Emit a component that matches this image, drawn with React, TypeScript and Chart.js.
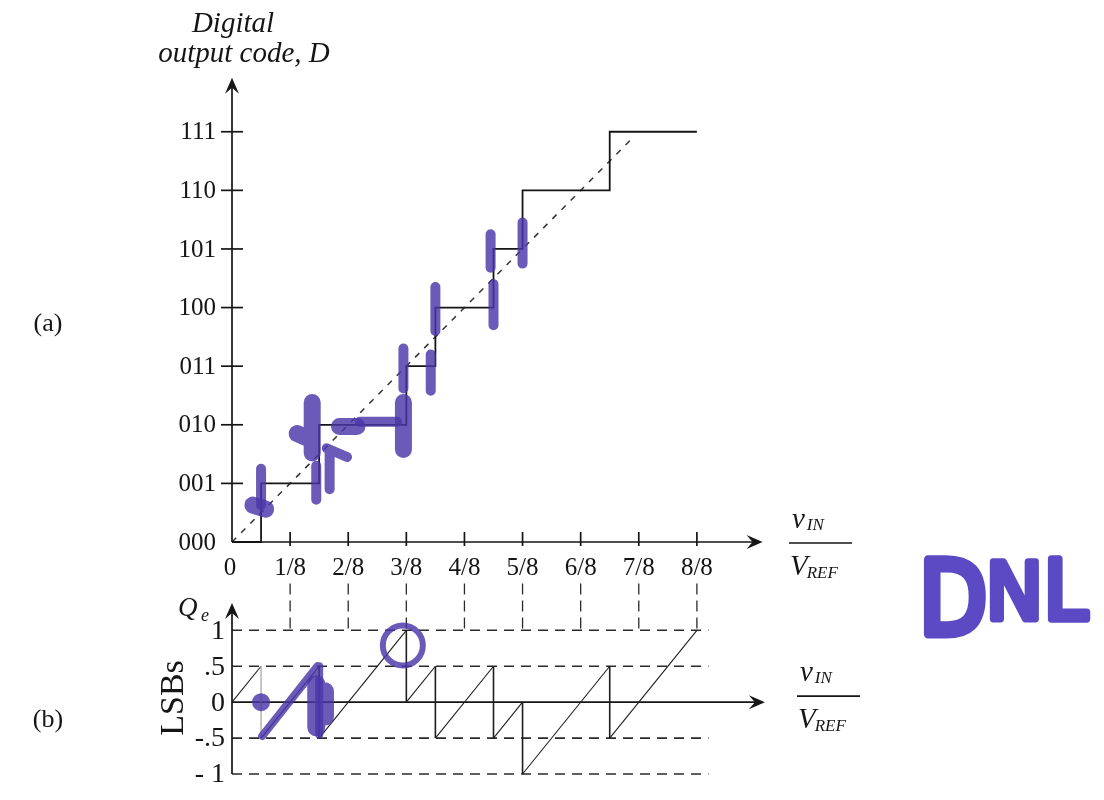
import { useEffect, useRef } from "react";
import { Chart, registerables } from "chart.js";
Chart.register(...registerables);

// ---------- (a) transfer characteristic (x in 1/8 units, y = code index) ----------
const codeTicks = [0, 1, 2, 3, 4, 5, 6, 7];
const codeLabels = ["000", "001", "010", "011", "100", "101", "110", "111"];
const inputTicks = [0, 1, 2, 3, 4, 5, 6, 7, 8];
const inputLabels = ["0", "1/8", "2/8", "3/8", "4/8", "5/8", "6/8", "7/8", "8/8"];
const stairX = [0, 0.5, 1.5, 3, 3.5, 4.5, 5, 6.5, 8];
const stairCode = [0, 1, 2, 3, 4, 5, 6, 7, 7];
const idealX = [0, 6.9];
const idealCode = [0, 6.9];

// hand-drawn ink marks on (a): [x1, y1, x2, y2]
const inkA_thin = [
  [0.5, 0.63, 0.5, 1.25],
  [1.45, 0.72, 1.45, 1.3],
  [1.68, 0.9, 1.68, 1.55],
  [1.63, 1.6, 1.98, 1.45],
  [2.2, 2.05, 2.84, 2.05],
  [2.95, 2.62, 2.95, 3.3],
  [3.42, 2.58, 3.42, 3.2],
  [3.5, 3.6, 3.5, 4.35],
  [4.5, 3.7, 4.5, 4.4],
  [4.45, 4.68, 4.45, 5.25],
  [5.0, 4.75, 5.0, 5.45],
];
const inkA_thick = [
  [0.36, 0.63, 0.58, 0.56],
  [1.38, 1.52, 1.38, 2.38],
  [1.12, 1.85, 1.35, 1.75],
  [1.85, 1.97, 2.15, 1.97],
  [2.95, 1.58, 2.95, 2.38],
];

// ---------- (b) quantization error ----------
const qeTicks = [1, 0.5, 0, -0.5, -1];
const qeTickLabels = ["1", ".5", "0", "-.5", "- 1"];
const qeGridLevels = [1, 0.5, -0.5, -1];
const qeX = [0, 0.5, 0.5, 1.5, 1.5, 3, 3, 3.5, 3.5, 4.5, 4.5, 5, 5, 6.5, 6.5, 8];
const qeY = [0, 0.5, -0.5, 0.5, -0.5, 1, 0, 0.5, -0.5, 0.5, -0.5, 0, -1, 0.5, -0.5, 1];

const inkB_thin = [
  [0.52, -0.47, 1.47, 0.5],
  [1.5, 0.5, 1.5, -0.45],
];
const inkB_thick = [
  [1.45, 0.25, 1.45, -0.35],
  [1.6, 0.15, 1.6, -0.2],
];
const inkB_dot = [[0.5, 0]];
const inkB_ring = [[2.94, 0.79]];

const SERIF = '"Liberation Serif", "DejaVu Serif", serif';
const INK = "rgba(74, 54, 168, 0.82)";
const INK_TEXT = "#5c4ac4";
const BLACK = "#151515";

const segData = (segs: number[][]) => {
  const out: any[] = [];
  segs.forEach((s) => {
    out.push({ x: s[0], y: s[1] }, { x: s[2], y: s[3] }, { x: s[2], y: null });
  });
  return out;
};
const zipXY = (xs: number[], ys: number[]) => xs.map((x, i) => ({ x, y: ys[i] }));

function arrowHead(ctx: CanvasRenderingContext2D, x: number, y: number, dir: "up" | "right") {
  ctx.save();
  ctx.translate(x, y);
  if (dir === "up") ctx.rotate(-Math.PI / 2);
  ctx.beginPath();
  ctx.moveTo(0, 0);
  ctx.lineTo(-16, -7);
  ctx.lineTo(-10, 0);
  ctx.lineTo(-16, 7);
  ctx.closePath();
  ctx.fillStyle = BLACK;
  ctx.fill();
  ctx.restore();
}

function line(ctx: CanvasRenderingContext2D, x1: number, y1: number, x2: number, y2: number) {
  ctx.beginPath();
  ctx.moveTo(x1, y1);
  ctx.lineTo(x2, y2);
  ctx.stroke();
}

function fracLabel(ctx: CanvasRenderingContext2D, left: number, lineY: number, right: number) {
  ctx.save();
  ctx.fillStyle = BLACK;
  ctx.textAlign = "left";
  ctx.textBaseline = "alphabetic";
  ctx.font = `italic 29px ${SERIF}`;
  ctx.fillText("v", left + 3, lineY - 15);
  const vw = ctx.measureText("v").width;
  ctx.font = `italic 17px ${SERIF}`;
  ctx.fillText("IN", left + 3 + vw + 2, lineY - 13);
  ctx.strokeStyle = BLACK;
  ctx.lineWidth = 1.6;
  line(ctx, left, lineY, right, lineY);
  ctx.font = `italic 29px ${SERIF}`;
  ctx.fillText("V", left + 1, lineY + 32);
  const Vw = ctx.measureText("V").width;
  ctx.font = `italic 17px ${SERIF}`;
  ctx.fillText("REF", left + 1 + Vw - 1, lineY + 35);
  ctx.restore();
}

function inkLetter(
  ctx: CanvasRenderingContext2D, ch: string, l: number, t: number, r: number, b: number
) {
  ctx.save();
  ctx.font = `100px "DejaVu Sans", "Noto Sans", sans-serif`;
  const m = ctx.measureText(ch);
  const pad = 6;
  const gw = m.actualBoundingBoxLeft + m.actualBoundingBoxRight + pad * 2;
  const gh = m.actualBoundingBoxAscent + m.actualBoundingBoxDescent + pad * 2;
  const sx = (r - l) / gw;
  const sy = (b - t) / gh;
  ctx.translate(l, t);
  ctx.scale(sx, sy);
  ctx.translate(m.actualBoundingBoxLeft + pad, m.actualBoundingBoxAscent + pad);
  ctx.fillStyle = INK_TEXT;
  ctx.strokeStyle = INK_TEXT;
  ctx.lineJoin = "round";
  ctx.lineCap = "round";
  ctx.lineWidth = 9;
  ctx.textBaseline = "alphabetic";
  ctx.fillText(ch, 0, 0);
  ctx.strokeText(ch, 0, 0);
  ctx.restore();
}

const axesA = {
  id: "axesA",
  beforeDraw(chart: any) {
    const ctx = chart.ctx;
    ctx.save();
    ctx.fillStyle = "#ffffff";
    ctx.fillRect(0, 0, chart.width, chart.height);
    ctx.restore();
  },
  beforeDatasetsDraw(chart: any) {
    const ctx: CanvasRenderingContext2D = chart.ctx;
    const xs = chart.scales.x;
    const ys = chart.scales.y;
    const x0 = xs.getPixelForValue(0);
    const y0 = ys.getPixelForValue(0);
    ctx.save();
    ctx.strokeStyle = BLACK;
    ctx.lineWidth = 1.7;
    // axes
    const yTip = ys.getPixelForValue(7.92);
    const xTip = xs.getPixelForValue(9.13);
    line(ctx, x0, y0, x0, yTip + 6);
    arrowHead(ctx, x0, yTip, "up");
    line(ctx, x0, y0, xTip - 6, y0);
    arrowHead(ctx, xTip, y0, "right");
    // y ticks and labels
    ctx.fillStyle = BLACK;
    ctx.font = `25px ${SERIF}`;
    ctx.textAlign = "right";
    ctx.textBaseline = "middle";
    codeTicks.forEach((c, i) => {
      const py = ys.getPixelForValue(c);
      if (c > 0) line(ctx, x0 - 11, py, x0 + 11, py);
      ctx.fillText(codeLabels[i], x0 - 16, py + 1);
    });
    // x ticks and labels
    ctx.textAlign = "center";
    ctx.textBaseline = "alphabetic";
    inputTicks.forEach((v, i) => {
      const px = xs.getPixelForValue(v);
      if (v > 0) line(ctx, px, y0 - 10, px, y0 + 4);
      ctx.fillText(inputLabels[i], px - (v === 0 ? 2 : 0), y0 + 33);
    });
    // titles
    ctx.font = `italic 29px ${SERIF}`;
    ctx.fillText("Digital", x0 + 1, 32);
    ctx.fillText("output code, D", x0 + 12, 62);
    ctx.font = `26px ${SERIF}`;
    ctx.fillText("(a)", 48, 331);
    fracLabel(ctx, 789, y0 + 1, 852);
    ctx.restore();
  },
};

const axesB = {
  id: "axesB",
  beforeDatasetsDraw(chart: any) {
    const ctx: CanvasRenderingContext2D = chart.ctx;
    const xs = chart.scales.x;
    const ys = chart.scales.y;
    const x0 = xs.getPixelForValue(0);
    const y0 = ys.getPixelForValue(0);
    ctx.save();
    ctx.strokeStyle = "#2a2a2a";
    ctx.lineWidth = 1.6;
    // dashed reference levels
    ctx.setLineDash([10, 7]);
    const xEnd = xs.getPixelForValue(8.2);
    qeGridLevels.forEach((q) => {
      const py = ys.getPixelForValue(q);
      line(ctx, x0, py, xEnd, py);
    });
    // vertical dashed projections from the 1/8 ticks
    ctx.setLineDash([11, 6]);
    ctx.lineWidth = 1.3;
    const yTop = ys.getPixelForValue(1.65);
    const yBot = ys.getPixelForValue(1) - 1;
    inputTicks.forEach((v) => {
      if (v === 0) return;
      const px = xs.getPixelForValue(v);
      line(ctx, px, yTop, px, yBot);
    });
    ctx.setLineDash([]);
    // axes
    ctx.strokeStyle = BLACK;
    ctx.lineWidth = 1.7;
    const yTip = ys.getPixelForValue(1.38);
    const xTip = xs.getPixelForValue(9.17);
    line(ctx, x0, ys.getPixelForValue(-1), x0, yTip + 6);
    arrowHead(ctx, x0, yTip, "up");
    line(ctx, x0, y0, xTip - 6, y0);
    arrowHead(ctx, xTip, y0, "right");
    // tick labels
    ctx.fillStyle = BLACK;
    ctx.font = `28px ${SERIF}`;
    ctx.textAlign = "right";
    ctx.textBaseline = "middle";
    qeTicks.forEach((q, i) => {
      ctx.fillText(qeTickLabels[i], x0 - 7, ys.getPixelForValue(q) + 1);
    });
    // Qe label
    ctx.textAlign = "left";
    ctx.textBaseline = "alphabetic";
    ctx.font = `italic 27px ${SERIF}`;
    ctx.fillText("Q", 178, 616);
    ctx.font = `italic 18px ${SERIF}`;
    ctx.fillText("e", 201, 621);
    // LSBs rotated
    ctx.save();
    ctx.translate(183, 698);
    ctx.rotate(-Math.PI / 2);
    ctx.textAlign = "center";
    ctx.font = `34px ${SERIF}`;
    ctx.fillText("LSBs", 0, 0);
    ctx.restore();
    ctx.textAlign = "center";
    ctx.font = `26px ${SERIF}`;
    ctx.fillText("(b)", 48, 727);
    fracLabel(ctx, 797, y0 - 6, 860);
    ctx.restore();
  },
  afterDraw(chart: any) {
    const ctx: CanvasRenderingContext2D = chart.ctx;
    inkLetter(ctx, "D", 922, 553, 988, 640);
    inkLetter(ctx, "N", 988, 558, 1040, 624);
    inkLetter(ctx, "L", 1046, 554, 1092, 624);
  },
};

const baseOptions = (xMax: number, yMin: number, yMax: number, padding: any) => ({
  responsive: false,
  animation: false as const,
  events: [] as any[],
  layout: { padding },
  plugins: { legend: { display: false }, tooltip: { enabled: false } },
  elements: { point: { radius: 0 }, line: { tension: 0 } },
  scales: {
    x: { type: "linear" as const, min: 0, max: xMax, display: false },
    y: { type: "linear" as const, min: yMin, max: yMax, display: false },
  },
});

export default function App() {
  const refA = useRef<HTMLCanvasElement>(null);
  const refB = useRef<HTMLCanvasElement>(null);

  useEffect(() => {
    const chartA = new Chart(refA.current!, {
      type: "line",
      data: {
        datasets: [
          {
            data: segData(inkA_thin),
            borderColor: INK,
            borderWidth: 10,
            borderCapStyle: "round",
            borderJoinStyle: "round",
            clip: false,
          } as any,
          {
            data: segData(inkA_thick),
            borderColor: INK,
            borderWidth: 17,
            borderCapStyle: "round",
            borderJoinStyle: "round",
            clip: false,
          } as any,
          {
            data: zipXY(stairX, stairCode),
            stepped: "before",
            borderColor: BLACK,
            borderWidth: 1.8,
            clip: false,
          } as any,
          {
            data: zipXY(idealX, idealCode),
            borderColor: "#333333",
            borderWidth: 1.5,
            borderDash: [6, 7],
            clip: false,
          } as any,
        ],
      },
      options: baseOptions(9, 0, 7.9, { left: 232, right: 349, top: 79, bottom: 258 }) as any,
      plugins: [axesA],
    });

    const chartB = new Chart(refB.current!, {
      type: "line",
      data: {
        datasets: [
          {
            data: inkB_ring.map((p) => ({ x: p[0], y: p[1] })),
            showLine: false,
            pointRadius: 20,
            pointBorderWidth: 6,
            pointBorderColor: INK,
            pointBackgroundColor: "rgba(0,0,0,0)",
            clip: false,
          } as any,
          {
            data: inkB_dot.map((p) => ({ x: p[0], y: p[1] })),
            showLine: false,
            pointRadius: 9,
            pointBorderWidth: 0,
            pointBackgroundColor: INK,
            clip: false,
          } as any,
          {
            data: segData(inkB_thin),
            borderColor: INK,
            borderWidth: 8,
            borderCapStyle: "round",
            borderJoinStyle: "round",
            clip: false,
          } as any,
          {
            data: segData(inkB_thick),
            borderColor: INK,
            borderWidth: 18,
            borderCapStyle: "round",
            borderJoinStyle: "round",
            clip: false,
          } as any,
          {
            data: zipXY(qeX, qeY),
            borderColor: "#1e1e1e",
            borderWidth: 1.1,
            segment: {
              borderColor: (c: any) =>
                c.p0.parsed.x === 0.5 && c.p1.parsed.x === 0.5 ? "#b8b8b8" : "#1e1e1e",
              borderWidth: (c: any) => (c.p0.parsed.x === c.p1.parsed.x ? 1.6 : 1.1),
            },
            clip: false,
          } as any,
        ],
      },
      options: baseOptions(9, -1, 1.38, { left: 232, right: 349, top: 603, bottom: 14 }) as any,
      plugins: [axesB],
    });

    return () => {
      chartA.destroy();
      chartB.destroy();
    };
  }, []);

  return (
    <div
      style={{
        position: "fixed",
        left: 0,
        top: 0,
        width: 1104,
        height: 800,
        background: "#ffffff",
        overflow: "hidden",
      }}
    >
      <canvas
        ref={refA}
        width={1104}
        height={800}
        style={{ position: "absolute", left: 0, top: 0, width: 1104, height: 800 }}
      />
      <canvas
        ref={refB}
        width={1104}
        height={800}
        style={{ position: "absolute", left: 0, top: 0, width: 1104, height: 800, pointerEvents: "none" }}
      />
    </div>
  );
}
